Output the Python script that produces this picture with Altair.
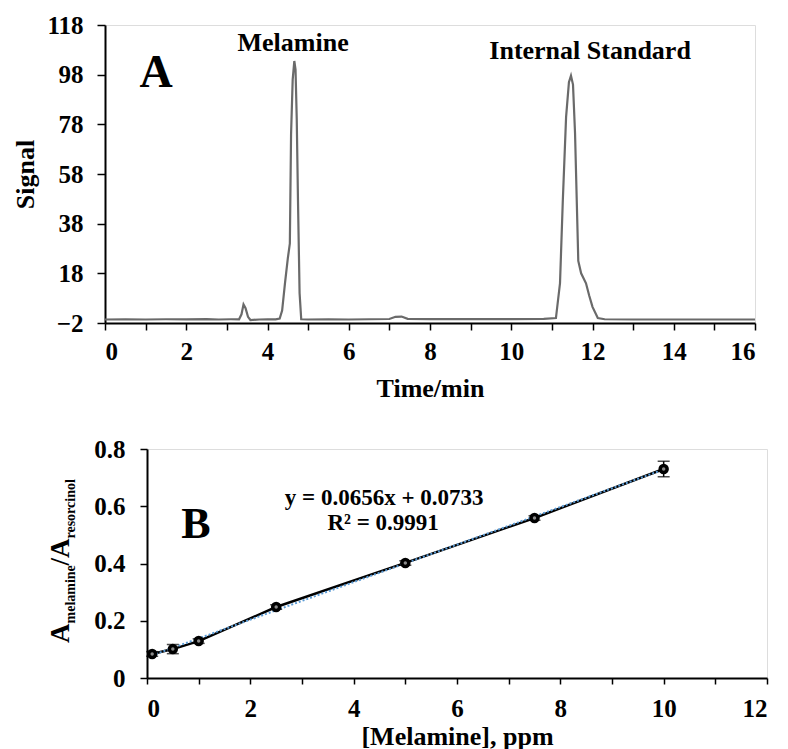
import altair as alt
import pandas as pd

# ---------------- Panel A: chromatogram ----------------
time_min = [0.0, 0.5, 1.0, 1.5, 2.0, 2.5, 2.8, 3.1, 3.3, 3.36, 3.41, 3.46, 3.52, 3.58, 3.8, 4.0, 4.2,
            4.3, 4.36, 4.43, 4.5, 4.55, 4.58, 4.62, 4.66, 4.69, 4.72, 4.75, 4.79, 4.83, 5.0, 5.5,
            6.0, 6.5, 7.0, 7.15, 7.3, 7.45, 8.0, 9.0, 10.0, 10.8, 11.1, 11.2, 11.27, 11.35, 11.42,
            11.47, 11.52, 11.57, 11.65, 11.72, 11.84, 11.92, 12.0, 12.13, 12.3, 13.0, 14.0, 15.0, 16.0]
signal = [-0.6, -0.5, -0.6, -0.5, -0.5, -0.4, -0.6, -0.5, -0.5, 1.5, 5.5, 4.0, 0.5, -0.8, -0.6, -0.5, -0.5,
          -0.2, 3.0, 14.0, 24.0, 30.0, 74.0, 96.0, 103.5, 100.0, 80.0, 47.6, 10.0, -0.5, -0.6, -0.5,
          -0.6, -0.5, -0.4, 0.5, 0.6, -0.3, -0.4, -0.4, -0.4, -0.3, 0.0, 14.0, 47.6, 81.0, 95.0,
          97.6, 94.0, 74.5, 23.0, 18.0, 14.0, 9.0, 4.5, 0.0, -0.5, -0.6, -0.6, -0.6, -0.6]

peak_labels = ["Melamine", "Internal Standard"]
peak_label_t = [4.63, 11.94]
peak_label_s = [110.9, 107.7]

# ---------------- Panel B: calibration ----------------
conc_ppm = [0.1, 0.5, 1.0, 2.5, 5.0, 7.5, 10.0]
ratio = [0.084, 0.101, 0.129, 0.248, 0.402, 0.559, 0.730]
ratio_err = [0.008, 0.016, 0.008, 0.008, 0.008, 0.008, 0.027]

eq_lines = ["y = 0.0656x + 0.0733", "R\u00b2 = 0.9991"]
eq_x = [4.59, 4.57]
eq_y = [0.629, 0.541]

FONT = "Liberation Serif"
GRAY = "#6a6a6a"

dfA = pd.DataFrame({"t": time_min, "s": signal})
dfA_lab = pd.DataFrame({"t": peak_label_t, "s": peak_label_s, "lab": peak_labels})
dfA_letter = pd.DataFrame({"t": [1.26], "s": [98.8], "lab": ["A"]})

common_axis = dict(labelFont=FONT, labelFontWeight="bold", labelFontSize=25, labelColor="black",
                   titleFont=FONT, titleFontWeight="bold", titleFontSize=26, titleColor="black",
                   domainColor="black", domainWidth=2, tickColor="black", tickWidth=1.5,
                   grid=False)

xA = alt.X("t:Q", scale=alt.Scale(domain=[0, 16], nice=False, zero=False),
           axis=alt.Axis(values=list(range(0, 17)), tickSize=7, labelPadding=9,
                         labelExpr="datum.value % 2 == 0 ? datum.label : ''",
                         title="Time/min", titlePadding=11, **common_axis))
yA = alt.Y("s:Q", scale=alt.Scale(domain=[-2, 118], nice=False, zero=False),
           axis=alt.Axis(values=list(range(-2, 119, 10)), tickSize=8, labelPadding=14,
                         labelExpr="(datum.value + 2) % 20 == 0 ? datum.label : ''",
                         title="Signal", titlePadding=8, **common_axis))

traceA = alt.Chart(dfA).mark_line(color=GRAY, strokeWidth=2.2, interpolate="linear").encode(
    x=xA, y=yA, order="t:Q")
labA = alt.Chart(dfA_lab).mark_text(font=FONT, fontWeight="bold", fontSize=26, color="black").encode(
    x="t:Q", y="s:Q", text="lab:N")
letterA = alt.Chart(dfA_letter).mark_text(font=FONT, fontWeight="bold", fontSize=46, color="black").encode(
    x="t:Q", y="s:Q", text="lab:N")

chartA = alt.layer(traceA, labA, letterA).properties(width=650, height=298)

# ---------------- Panel B ----------------
dfB = pd.DataFrame({"c": conc_ppm, "r": ratio, "e": ratio_err})
dfB_eq = pd.DataFrame({"c": eq_x, "r": eq_y, "lab": eq_lines})
dfB_letter = pd.DataFrame({"c": [0.945], "r": [0.534], "lab": ["B"]})

xB = alt.X("c:Q", scale=alt.Scale(domain=[0, 12], nice=False, zero=False),
           axis=alt.Axis(values=list(range(0, 13)), tickSize=6, labelPadding=12,
                         labelExpr="datum.value % 2 == 0 ? datum.label : ''",
                         title="[Melamine], ppm", titlePadding=2, **common_axis))
yB = alt.Y("r:Q", scale=alt.Scale(domain=[0, 0.8], nice=False, zero=False),
           axis=alt.Axis(values=[0, 0.1, 0.2, 0.3, 0.4, 0.5, 0.6, 0.7, 0.8], tickSize=7, labelPadding=15,
                         labelExpr="round(datum.value * 10) % 2 == 0 ? format(datum.value, '~g') : ''",
                         title=None, **common_axis))

lineB = alt.Chart(dfB).mark_line(color="black", strokeWidth=2.5).encode(x=xB, y=yB)
trendB = alt.Chart(dfB).transform_regression("c", "r").mark_line(
    color="#5b9bd5", strokeWidth=2, strokeDash=[2, 2]).encode(x="c:Q", y="r:Q")
errB = alt.Chart(dfB).transform_calculate(lo="datum.r - datum.e", hi="datum.r + datum.e")
err_rule = errB.mark_rule(color="black", strokeWidth=1.5).encode(x="c:Q", y="lo:Q", y2="hi:Q")
err_lo = errB.mark_tick(color="black", orient="horizontal", size=12, thickness=1.5).encode(x="c:Q", y="lo:Q")
err_hi = errB.mark_tick(color="black", orient="horizontal", size=12, thickness=1.5).encode(x="c:Q", y="hi:Q")
ptsB = alt.Chart(dfB).mark_point(shape="circle", filled=True, size=110, color="black", opacity=1).encode(
    x="c:Q", y="r:Q")
ptsB_in = alt.Chart(dfB).mark_point(shape="circle", filled=True, size=12, color="#8a8a8a", opacity=1).encode(
    x="c:Q", y="r:Q")
eqB = alt.Chart(dfB_eq).mark_text(font=FONT, fontWeight="bold", fontSize=23, color="black").encode(
    x="c:Q", y="r:Q", text="lab:N")
letterB = alt.Chart(dfB_letter).mark_text(font=FONT, fontWeight="bold", fontSize=44, color="black").encode(
    x="c:Q", y="r:Q", text="lab:N")

# Y-axis title with subscripts: A_melamine / A_resorcinol (rotated text pieces)
title_parts = ["A", "melamine", "/A", "resorcinol"]
title_sizes = [27, 14, 27, 14]
title_px = [-78, -72, -78, -72]
title_py = [194, 174.5, 116.5, 89.5]
ytitle_layers = []
for txt, fs, px, py in zip(title_parts, title_sizes, title_px, title_py):
    ytitle_layers.append(
        alt.Chart(pd.DataFrame({"lab": [txt]})).mark_text(
            font=FONT, fontWeight="bold", fontSize=fs, color="black", angle=270,
            align="left", baseline="alphabetic").encode(
            x=alt.value(px), y=alt.value(py), text="lab:N"))

chartB = alt.layer(lineB, trendB, err_rule, err_lo, err_hi, ptsB, ptsB_in, eqB, letterB,
                   *ytitle_layers).properties(width=620, height=229)

# invisible spacer that shifts panel B to the right relative to panel A
spacer = alt.Chart(pd.DataFrame({"lab": [""]})).mark_text(opacity=0).encode(
    x=alt.value(0), y=alt.value(0), text="lab:N").properties(
    width=42, height=229, view=alt.ViewBackground(stroke="transparent", strokeWidth=0))

rowB = alt.hconcat(spacer, chartB, spacing=0, bounds="flush")

chart = alt.vconcat(chartA, rowB, spacing=126, bounds="flush").properties(
    padding={"left": 4, "top": 4, "right": 0, "bottom": 0}
).configure_view(stroke="black", strokeWidth=2).configure(background="white")

chart.save("out.html", embed_options={"renderer": "svg", "actions": False})
